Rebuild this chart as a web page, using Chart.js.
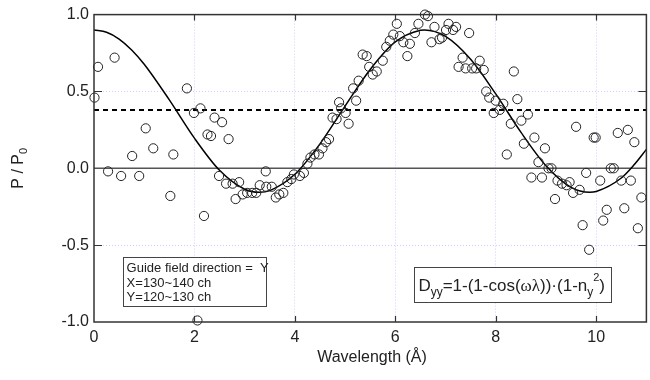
<!DOCTYPE html>
<html><head><meta charset="utf-8">
<script src="https://cdn.jsdelivr.net/npm/chart.js@4/dist/chart.umd.min.js"></script>
<style>
html,body{margin:0;padding:0;background:#fff;overflow:hidden;width:650px;height:380px}
#wrap{position:relative;width:652px;height:380px}
</style></head>
<body><div id="wrap"><canvas id="c" width="652" height="380"></canvas></div>
<script>
// ---- data ----
const wavelength = [0.01,0.08,0.28,0.41,0.54,0.76,0.90,1.03,1.18,1.52,
1.58,1.85,1.99,2.06,2.12,2.19,2.26,2.33,2.40,2.49,
2.55,2.63,2.68,2.76,2.82,2.89,2.96,3.05,3.15,3.23,
3.30,3.42,3.43,3.54,3.62,3.69,3.77,3.85,3.93,3.98,
4.10,4.18,4.25,4.31,4.39,4.48,4.55,4.62,4.68,4.75,
4.83,4.88,4.92,5.01,5.07,5.16,5.22,5.27,5.35,5.43,
5.48,5.55,5.63,5.75,5.82,5.89,5.96,6.03,6.09,6.16,
6.24,6.29,6.39,6.46,6.59,6.65,6.72,6.78,6.88,6.93,
7.01,7.06,7.15,7.21,7.26,7.34,7.40,7.47,7.53,7.61,
7.68,7.76,7.81,7.87,7.96,8.00,8.08,8.15,8.22,8.30,
8.36,8.43,8.51,8.56,8.64,8.71,8.77,8.85,8.92,8.98,
9.05,9.11,9.18,9.23,9.32,9.41,9.47,9.54,9.60,9.67,
9.73,9.80,9.86,9.95,9.99,10.08,10.14,10.21,10.29,10.35,
10.43,10.50,10.56,10.63,10.69,10.76,10.83,10.90];
const polarization = [0.46,0.66,-0.02,0.72,-0.05,0.08,-0.05,0.26,0.13,-0.18,
0.09,0.52,0.36,-0.99,0.39,-0.31,0.22,0.21,0.33,-0.05,
0.30,-0.10,0.19,-0.10,-0.20,-0.09,-0.17,-0.16,-0.16,-0.16,
-0.11,-0.02,-0.12,-0.12,-0.19,-0.17,-0.16,-0.09,-0.07,-0.04,
-0.05,-0.03,0.03,0.07,0.09,0.09,0.13,0.17,0.19,0.33,
0.32,0.43,0.39,0.36,0.29,0.52,0.44,0.57,0.74,0.73,
0.66,0.61,0.63,0.70,0.79,0.83,0.87,0.94,0.86,0.82,
0.73,0.81,0.88,0.94,1.00,0.99,0.82,0.92,0.84,0.85,
0.90,0.94,0.90,0.92,0.66,0.72,0.65,0.88,0.65,0.65,
0.70,0.64,0.50,0.46,0.36,0.44,0.38,0.42,0.09,0.29,
0.63,0.45,0.31,0.16,0.35,-0.06,0.20,0.04,-0.06,0.13,
0.00,0.00,-0.20,-0.08,-0.10,-0.11,-0.09,-0.16,0.27,-0.14,
-0.37,-0.03,-0.53,0.20,0.20,-0.08,-0.34,-0.27,0.00,0.00,
0.23,-0.08,-0.26,0.25,-0.08,0.17,-0.39,-0.19];
const fitWavelength = [0,0.25,0.5,0.75,1,1.5,2,2.5,3,3.29,3.5,4,4.5,5,5.5,6,6.5,6.58,7,7.5,8,8.5,9,9.5,9.87,10,10.5,10.75,11];
const fitPolarization = [0.900,0.885,0.841,0.770,0.677,0.445,0.196,-0.013,-0.136,-0.156,-0.145,-0.039,0.159,0.405,0.643,0.822,0.898,0.900,0.858,0.709,0.484,0.235,0.017,-0.124,-0.156,-0.151,-0.063,0.021,0.123];
const meanLevel = 0.38;
const xTicks = [0,2,4,6,8,10];
const yTicks = [-1.0,-0.5,0.0,0.5,1.0];
const xRange = [0, 11];
const yRange = [-1, 1];
const legendLines = ['Guide field direction =  Y','X=130~140 ch','Y=120~130 ch'];
const xTitle = 'Wavelength (Å)';
const yTitleMain = 'P / P';
const yTitleSub = '0';

// ---- chart ----
const FONT = "'Liberation Sans', Arial, sans-serif";
const SERIF = "'Liberation Serif', 'DejaVu Serif', serif";
const INK = '#222';
const GRID = 'rgba(170,170,255,0.55)';

const points = wavelength.map((w,i)=>({x:w,y:polarization[i]}));
const fit = fitWavelength.map((w,i)=>({x:w,y:fitPolarization[i]}));

const decor = {
  id:'decor',
  afterDraw(chart){
    const {ctx, chartArea:a, scales:{x,y}} = chart;
    ctx.save();
    // frame
    ctx.strokeStyle = '#333'; ctx.lineWidth = 1.5;
    ctx.strokeRect(a.left, a.top, a.right-a.left, a.bottom-a.top);
    // inner ticks
    ctx.beginPath();
    xTicks.forEach(v=>{ if(v===xRange[0]) return; const px=Math.round(x.getPixelForValue(v))+0.5;
      ctx.moveTo(px,a.top); ctx.lineTo(px,a.top+6); ctx.moveTo(px,a.bottom); ctx.lineTo(px,a.bottom-6); });
    yTicks.forEach(v=>{ if(Math.abs(v)!==0.5) return; const py=Math.round(y.getPixelForValue(v))+0.5;
      ctx.moveTo(a.left,py); ctx.lineTo(a.left+8,py); ctx.moveTo(a.right,py); ctx.lineTo(a.right-8,py); });
    ctx.lineWidth = 1.2; ctx.stroke();
    // axis titles
    ctx.fillStyle = INK; ctx.textBaseline='middle';
    ctx.font = '16px '+FONT; ctx.textAlign='center';
    ctx.fillText(xTitle, (a.left+650)/2, 358);
    ctx.save();
    ctx.translate(19, (a.top+a.bottom)/2); ctx.rotate(-Math.PI/2);
    ctx.font='16px '+FONT;
    const w1 = ctx.measureText(yTitleMain).width;
    ctx.font='11px '+FONT; const w2 = ctx.measureText(yTitleSub).width;
    const start = -(w1+w2)/2;
    ctx.textAlign='left'; ctx.font='16px '+FONT;
    ctx.fillText(yTitleMain, start, 0);
    ctx.font='11px '+FONT; ctx.fillText(yTitleSub, start+w1, 5);
    ctx.restore();
    // legend box 1
    const bx1 = x.getPixelForValue(0.57), bx2 = x.getPixelForValue(3.41);
    const by1 = y.getPixelForValue(-0.58), by2 = y.getPixelForValue(-0.898);
    ctx.fillStyle='#fff'; ctx.fillRect(bx1,by1,bx2-bx1,by2-by1);
    ctx.strokeStyle='#444'; ctx.lineWidth=1; ctx.strokeRect(Math.round(bx1)+0.5,Math.round(by1)+0.5,Math.round(bx2-bx1),Math.round(by2-by1));
    ctx.fillStyle=INK; ctx.font='13px '+FONT; ctx.textAlign='left'; ctx.textBaseline='middle';
    legendLines.forEach((t,i)=>ctx.fillText(t, bx1+4, by1+11+i*14.6));
    // formula box
    const fx1 = x.getPixelForValue(6.38), fx2 = x.getPixelForValue(10.30);
    const fy1 = y.getPixelForValue(-0.64), fy2 = y.getPixelForValue(-0.87);
    ctx.fillStyle='#fff'; ctx.fillRect(fx1,fy1,fx2-fx1,fy2-fy1);
    ctx.strokeStyle='#444'; ctx.strokeRect(Math.round(fx1)+0.5,Math.round(fy1)+0.5,Math.round(fx2-fx1),Math.round(fy2-fy1));
    const segs = [
      {t:'D'},{t:'yy',k:'sub'},{t:'=1-(1-cos('},{t:'ωλ',k:'greek'},{t:'))·(1-n'},{t:'y',k:'sub'},{t:'2',k:'sup'},{t:')'}
    ];
    let cx = fx1+4; const base = fy1 + 24;
    ctx.fillStyle=INK; ctx.textBaseline='alphabetic';
    segs.forEach(s=>{
      let f='17px '+FONT, dy=0;
      if(s.k==='sub'){f='12px '+FONT; dy=5;}
      if(s.k==='sup'){f='11px '+FONT; dy=-10;}
      if(s.k==='greek'){f='17px '+SERIF;}
      ctx.font=f; ctx.fillText(s.t,cx,base+dy); cx+=ctx.measureText(s.t).width;
    });
    ctx.restore();
  }
};

new Chart(document.getElementById('c'), {
  type:'scatter',
  data:{datasets:[
    {type:'line', data:[{x:xRange[0],y:0},{x:xRange[1],y:0}], borderColor:'#555', borderWidth:1.5, pointRadius:0, order:4},
    {type:'line', data:[{x:xRange[0],y:meanLevel},{x:xRange[1],y:meanLevel}], borderColor:'#000', borderWidth:2, borderDash:[5,4], pointRadius:0, order:3},
    {type:'line', data:fit, borderColor:'#000', borderWidth:1.5, pointRadius:0, cubicInterpolationMode:'monotone', order:2},
    {type:'scatter', data:points, borderColor:'#222', backgroundColor:'rgba(0,0,0,0)', pointRadius:4.6, pointBorderWidth:1, borderWidth:1, clip:false, order:1}
  ]},
  options:{
    responsive:false, animation:false, devicePixelRatio:1,
    layout:{padding:{top:14,right:0,left:0,bottom:0}},
    plugins:{legend:{display:false}, tooltip:{enabled:false}},
    scales:{
      x:{type:'linear', min:xRange[0], max:xRange[1],
        afterBuildTicks:s=>{s.ticks = xTicks.map(v=>({value:v}));},
        afterFit:s=>{s.height=58;},
        ticks:{font:{family:FONT,size:16}, color:INK, padding:6, maxRotation:0, autoSkip:false, callback:v=>String(v)},
        grid:{color:c=>(c.tick && c.tick.value===0)?'rgba(0,0,0,0)':GRID, lineWidth:1, drawTicks:false},
        border:{display:false, dash:[1,2]}},
      y:{type:'linear', min:yRange[0], max:yRange[1],
        afterBuildTicks:s=>{s.ticks = yTicks.map(v=>({value:v}));},
        afterFit:s=>{s.width=94;},
        ticks:{font:{family:FONT,size:16}, color:INK, padding:5, callback:v=>Number(v).toFixed(1)},
        grid:{color:c=>(c.tick && Math.abs(c.tick.value)===0.5)?GRID:'rgba(0,0,0,0)', lineWidth:1, drawTicks:false},
        border:{display:false, dash:[1,2]}}
    }
  },
  plugins:[decor]
});
</script>
</body></html>
